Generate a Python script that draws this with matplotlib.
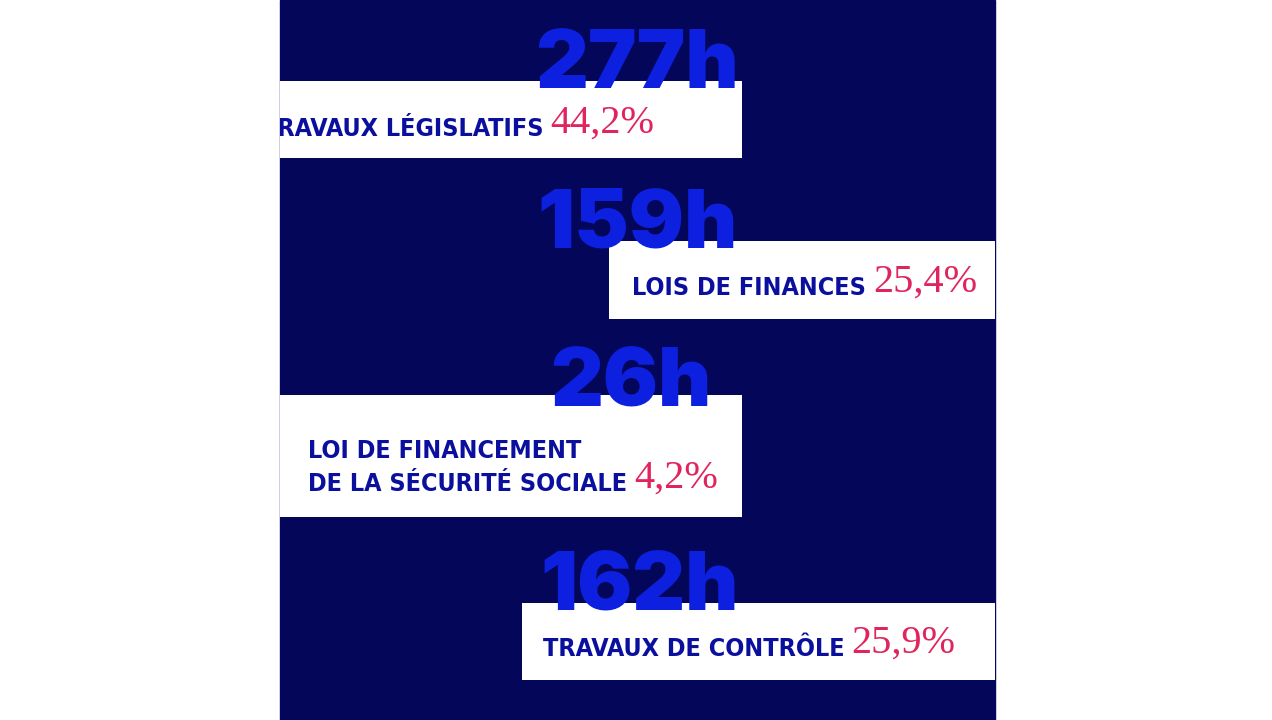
import matplotlib
matplotlib.use("Agg")
import matplotlib.pyplot as plt

# donnees : temps de seance par type de travaux
categories = ["TRAVAUX LÉGISLATIFS", "LOIS DE FINANCES",
              "LOI DE FINANCEMENT\nDE LA SÉCURITÉ SOCIALE", "TRAVAUX DE CONTRÔLE"]
heures = [277, 159, 26, 162]
parts = [44.2, 25.4, 4.2, 25.9]

# mise en page (pixels)
box_left = [280, 609, 280, 522]
box_right = [742, 995, 742, 995]
box_top = [81, 241, 395, 603]
box_bottom = [158, 319, 517, 680]
label_x = [281, 632, 308, 543]
label_base = [136, 295, 491, 656]
h_x = [535, 537, 550, 540]
h_base = [88, 248, 405, 610]

navy = "#04065a"
bleu = "#0d20e0"
bleu_txt = "#0a0f9e"
rose = "#e0245e"

police_lab = dict(family="DejaVu Sans", fontstretch="condensed", fontweight="bold", fontsize=18)

fig = plt.figure(figsize=(12.72, 7.2), dpi=100)
ax = fig.add_axes([0, 0, 1, 1])
ax.set_xlim(0, 1272)
ax.set_ylim(720, 0)
ax.axis("off")

fond = ax.axvspan(280, 995, color=navy, zorder=0)

centres = [(t + b) / 2 for t, b in zip(box_top, box_bottom)]
hauteurs = [b - t for t, b in zip(box_top, box_bottom)]
largeurs = [r - l for l, r in zip(box_left, box_right)]
ax.barh(centres, largeurs, left=box_left, height=hauteurs, color="white", zorder=1)

fig.canvas.draw()
renderer = fig.canvas.get_renderer()

for i in range(len(categories)):
    x = label_x[i]
    if i == 0:
        # le "T" deborde a gauche et est coupe par le fond
        tmp = ax.text(0, 0, "TR", **police_lab)
        tmp2 = ax.text(0, 0, "R", **police_lab)
        w = tmp.get_window_extent(renderer).width - tmp2.get_window_extent(renderer).width
        tmp.remove()
        tmp2.remove()
        x = label_x[i] - w - 4
    t = ax.text(x, label_base[i], categories[i], color=bleu_txt, ha="left", va="baseline",
                linespacing=1.5, zorder=2, clip_on=True, **police_lab)
    t.set_clip_path(fond)
    pct = f"{parts[i]:.1f}%".replace(".", ",")
    ax.annotate(pct, xy=(1, 0), xycoords=t, xytext=(7, -1), textcoords="offset pixels",
                fontsize=29, family="Liberation Serif", color=rose,
                ha="left", va="bottom", zorder=2)
    ax.text(h_x[i], h_base[i], f"{heures[i]}h", fontsize=59, family="Inter",
            fontweight="black", color=bleu, ha="left", va="baseline", zorder=3)

plt.savefig("out.png", dpi=100)
